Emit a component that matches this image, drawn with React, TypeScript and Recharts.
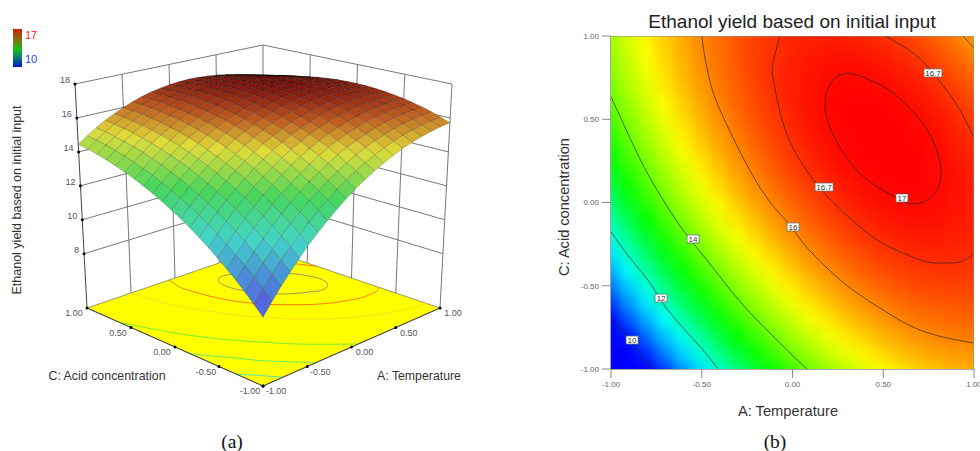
import { ComposedChart, Scatter, XAxis, YAxis } from 'recharts'

// grid of the response surface, rows run C = -1 .. 1, columns A = -1 .. 1
const gridSteps = [-1, -0.9, -0.8, -0.7, -0.6, -0.5, -0.4, -0.3, -0.2, -0.1, 0, 0.1, 0.2, 0.3, 0.4, 0.5, 0.6, 0.7, 0.8, 0.9, 1]
const yieldRows = [
  [8.52, 9.18, 9.81, 10.41, 10.98, 11.52, 12.02, 12.49, 12.93, 13.34, 13.72, 14.06, 14.37, 14.65, 14.9, 15.12, 15.3, 15.45, 15.57, 15.66, 15.72],
  [9.01, 9.66, 10.28, 10.87, 11.42, 11.94, 12.43, 12.89, 13.31, 13.71, 14.07, 14.4, 14.7, 14.96, 15.19, 15.4, 15.57, 15.7, 15.81, 15.88, 15.92],
  [9.49, 10.12, 10.72, 11.29, 11.83, 12.34, 12.82, 13.26, 13.67, 14.05, 14.4, 14.71, 14.99, 15.25, 15.46, 15.65, 15.81, 15.93, 16.02, 16.08, 16.11],
  [9.94, 10.56, 11.15, 11.7, 12.23, 12.72, 13.18, 13.61, 14.01, 14.37, 14.7, 15.01, 15.27, 15.51, 15.71, 15.89, 16.03, 16.14, 16.21, 16.26, 16.27],
  [10.37, 10.98, 11.55, 12.09, 12.6, 13.08, 13.53, 13.94, 14.32, 14.67, 14.99, 15.28, 15.53, 15.75, 15.94, 16.1, 16.23, 16.32, 16.38, 16.41, 16.41],
  [10.78, 11.37, 11.93, 12.46, 12.96, 13.42, 13.85, 14.25, 14.62, 14.95, 15.26, 15.53, 15.77, 15.98, 16.15, 16.3, 16.41, 16.49, 16.53, 16.55, 16.53],
  [11.17, 11.75, 12.29, 12.81, 13.29, 13.74, 14.15, 14.54, 14.89, 15.21, 15.5, 15.76, 15.98, 16.18, 16.34, 16.47, 16.57, 16.63, 16.66, 16.66, 16.63],
  [11.54, 12.1, 12.63, 13.13, 13.6, 14.03, 14.44, 14.81, 15.15, 15.45, 15.73, 15.97, 16.18, 16.36, 16.5, 16.62, 16.7, 16.75, 16.77, 16.76, 16.71],
  [11.89, 12.44, 12.95, 13.44, 13.89, 14.31, 14.7, 15.05, 15.38, 15.67, 15.93, 16.16, 16.35, 16.52, 16.65, 16.75, 16.82, 16.85, 16.86, 16.83, 16.77],
  [12.22, 12.75, 13.25, 13.72, 14.16, 14.56, 14.94, 15.28, 15.59, 15.87, 16.11, 16.33, 16.51, 16.66, 16.77, 16.86, 16.91, 16.94, 16.93, 16.88, 16.81],
  [12.52, 13.04, 13.53, 13.98, 14.41, 14.8, 15.16, 15.49, 15.78, 16.04, 16.27, 16.47, 16.64, 16.78, 16.88, 16.95, 16.99, 17.0, 16.97, 16.91, 16.83],
  [12.81, 13.31, 13.79, 14.23, 14.64, 15.01, 15.36, 15.67, 15.95, 16.2, 16.42, 16.6, 16.75, 16.87, 16.96, 17.02, 17.04, 17.04, 17.0, 16.92, 16.82],
  [13.08, 13.57, 14.02, 14.45, 14.84, 15.21, 15.54, 15.83, 16.1, 16.33, 16.54, 16.71, 16.84, 16.95, 17.02, 17.07, 17.08, 17.06, 17.0, 16.92, 16.8],
  [13.32, 13.8, 14.24, 14.65, 15.03, 15.38, 15.69, 15.98, 16.23, 16.45, 16.64, 16.79, 16.91, 17.01, 17.07, 17.09, 17.09, 17.05, 16.98, 16.88, 16.75],
  [13.54, 14.0, 14.43, 14.83, 15.2, 15.53, 15.83, 16.1, 16.34, 16.54, 16.71, 16.86, 16.96, 17.04, 17.09, 17.1, 17.08, 17.03, 16.95, 16.83, 16.69],
  [13.75, 14.19, 14.61, 14.99, 15.34, 15.66, 15.95, 16.2, 16.42, 16.61, 16.77, 16.9, 16.99, 17.06, 17.09, 17.09, 17.05, 16.99, 16.89, 16.76, 16.6],
  [13.93, 14.36, 14.76, 15.13, 15.46, 15.77, 16.04, 16.28, 16.49, 16.67, 16.81, 16.92, 17.0, 17.05, 17.07, 17.05, 17.0, 16.92, 16.81, 16.67, 16.49],
  [14.09, 14.51, 14.89, 15.25, 15.57, 15.86, 16.12, 16.34, 16.54, 16.7, 16.83, 16.92, 16.99, 17.02, 17.02, 16.99, 16.93, 16.84, 16.71, 16.55, 16.36],
  [14.23, 14.63, 15.0, 15.34, 15.65, 15.93, 16.17, 16.38, 16.56, 16.71, 16.82, 16.9, 16.96, 16.97, 16.96, 16.92, 16.84, 16.73, 16.59, 16.42, 16.21],
  [14.35, 14.74, 15.1, 15.42, 15.71, 15.97, 16.2, 16.4, 16.56, 16.7, 16.8, 16.87, 16.9, 16.91, 16.88, 16.82, 16.73, 16.6, 16.45, 16.26, 16.04],
  [14.45, 14.82, 15.17, 15.48, 15.75, 16.0, 16.21, 16.4, 16.55, 16.66, 16.75, 16.8, 16.83, 16.82, 16.77, 16.7, 16.6, 16.46, 16.29, 16.07, 15.85],
]

// contour lines, [A, C]
const contour10 = [[-1, -0.694], [-0.884, -0.844], [-0.774, -1]]
const contour12 = [[-1, -0.177], [-0.895, -0.333], [-0.785, -0.483], [-0.719, -0.598], [-0.603, -0.754], [-0.493, -0.886], [-0.41, -1]]
const contour14 = [[-1, 0.634], [-0.895, 0.387], [-0.785, 0.147], [-0.642, -0.105], [-0.548, -0.243], [-0.416, -0.423], [-0.273, -0.616], [-0.124, -0.784], [-0.014, -0.904], [0.08, -1]]
const contour16 = [[-0.499, 1], [-0.482, 0.868], [-0.438, 0.664], [-0.361, 0.465], [-0.251, 0.225], [-0.124, 0.003], [-0.014, -0.135], [0.058, -0.243], [0.19, -0.393], [0.333, -0.526], [0.499, -0.646], [0.664, -0.748], [0.829, -0.808], [1, -0.844]]
const contour16Corner = [[0.94, 1], [1, 0.928]]
const contour167Left = [[-0.069, 1], [-0.107, 0.844], [-0.107, 0.748], [-0.069, 0.544], [0.003, 0.327], [0.124, 0.123], [0.223, 0.003], [0.328, -0.105], [0.466, -0.225], [0.609, -0.303], [0.741, -0.357], [0.829, -0.363], [0.923, -0.357], [1, -0.309]]
const contour167Right = [[0.51, 1], [0.664, 0.898], [0.774, 0.778], [0.906, 0.586], [1, 0.387]]
const contour17 = [[0.317, 0.778], [0.427, 0.736], [0.554, 0.658], [0.664, 0.544], [0.758, 0.405], [0.813, 0.243], [0.813, 0.123], [0.758, 0.027], [0.664, -0.009], [0.576, 0.027], [0.427, 0.123], [0.3, 0.267], [0.207, 0.447], [0.179, 0.586], [0.196, 0.688], [0.245, 0.754], [0.317, 0.778]]
const plotFrame = [{ x: -1, y: 1 }, { x: 1, y: 1 }, { x: 1, y: -1 }]

const contourLabels = [
  { x: -0.884, y: -0.826, text: '10' },
  { x: -0.724, y: -0.574, text: '12' },
  { x: -0.548, y: -0.219, text: '14' },
  { x: 0.003, y: -0.147, text: '16' },
  { x: 0.174, y: 0.093, text: '16.7' },
  { x: 0.774, y: 0.778, text: '16.7' },
  { x: 0.603, y: 0.027, text: '17' },
]

const axisTicks = [-1, -0.5, 0, 0.5, 1]
const wallTicks = [-0.5, 0, 0.5]
const yieldTicks = [8, 10, 12, 14, 16, 18]

const floorContours = [
  { pts: contour10, color: '#55e8b0' },
  { pts: contour12, color: '#66ee66' },
  { pts: contour14, color: '#77ee33' },
  { pts: contour16, color: '#ffe020' },
  { pts: contour16Corner, color: '#ffe020' },
  { pts: contour167Left, color: '#ff7a10' },
  { pts: contour167Right, color: '#ff7a10' },
  { pts: contour17, color: '#9a9a58' },
]

const heatStops: [number, number[]][] = [
  [10, [0, 0, 255]],
  [11.7, [0, 255, 255]],
  [13.25, [0, 255, 0]],
  [15.1, [255, 255, 0]],
  [17.05, [255, 0, 0]],
]
const meshStops: [number, number[]][] = [
  [8.5, [90, 78, 225]],
  [10.3, [72, 150, 215]],
  [11.6, [68, 212, 200]],
  [13.4, [72, 214, 92]],
  [15.1, [224, 220, 58]],
  [16.2, [190, 92, 34]],
  [17.1, [125, 18, 14]],
]

function colorAt(stops: [number, number[]][], z: number) {
  if (z <= stops[0][0]) return `rgb(${stops[0][1].join(',')})`
  for (let i = 1; i < stops.length; i++) {
    if (z <= stops[i][0]) {
      const t = (z - stops[i - 1][0]) / (stops[i][0] - stops[i - 1][0])
      const c = stops[i][1].map((v, k) => Math.round(stops[i - 1][1][k] + (v - stops[i - 1][1][k]) * t))
      return `rgb(${c.join(',')})`
    }
  }
  return `rgb(${stops[stops.length - 1][1].join(',')})`
}

// panel (a): box corners in chart units, the chart scale is 1:1 with pixels
const WIDTH_A = 490
const HEIGHT = 451
const Z_FLOOR = 4.8
const Z_TOP = 18
const floorBox = { f: [263, 386], r: [440, 308], l: [87, 308], b: [263, 248] }
const topBox = { f: [263, 142], r: [452, 84], l: [75, 84], b: [263, 45] }

function corner(box: typeof floorBox, A: number, C: number) {
  const u = (A + 1) / 2
  const v = (C + 1) / 2
  const mix = (k: number) => (1 - u) * (1 - v) * box.f[k] + u * (1 - v) * box.r[k] + (1 - u) * v * box.l[k] + u * v * box.b[k]
  return [mix(0), mix(1)]
}

function project(A: number, C: number, z: number) {
  const lo = corner(floorBox, A, C)
  const hi = corner(topBox, A, C)
  const t = (z - Z_FLOOR) / (Z_TOP - Z_FLOOR)
  return { x: lo[0] + (hi[0] - lo[0]) * t, y: lo[1] + (hi[1] - lo[1]) * t }
}

const onFloor = (pts: number[][]) => pts.map(([a, c]) => project(a, c, Z_FLOOR))

// surface patches, far corner first so nearer ones paint over them
const patches: any[] = []
for (let c = gridSteps.length - 2; c >= 0; c--) {
  for (let a = gridSteps.length - 2; a >= 0; a--) {
    const corners = [
      project(gridSteps[a], gridSteps[c], yieldRows[c][a]),
      project(gridSteps[a + 1], gridSteps[c], yieldRows[c][a + 1]),
      project(gridSteps[a + 1], gridSteps[c + 1], yieldRows[c + 1][a + 1]),
      project(gridSteps[a], gridSteps[c + 1], yieldRows[c + 1][a]),
    ]
    const z = (yieldRows[c][a] + yieldRows[c][a + 1] + yieldRows[c + 1][a + 1] + yieldRows[c + 1][a]) / 4
    const far = Math.pow(((c + a) / 36), 6)
    patches.push({ x: corners[0].x, y: corners[0].y, corners, fill: colorAt(meshStops, z), edge: `rgba(0,0,0,${(0.28 + far * 0.65).toFixed(2)})` })
  }
}

const floorPoly = [project(-1, -1, Z_FLOOR), project(1, -1, Z_FLOOR), project(1, 1, Z_FLOOR), project(-1, 1, Z_FLOOR)]
const floorMark = [{ ...floorPoly[0], corners: floorPoly, fill: '#ffff00', edge: '#555' }]

const wallLines = [
  ...yieldTicks.map((z) => [project(-1, 1, z), project(1, 1, z), project(1, -1, z)]),
  ...wallTicks.map((a) => [project(a, 1, Z_FLOOR), project(a, 1, Z_TOP)]),
  ...wallTicks.map((c) => [project(1, c, Z_FLOOR), project(1, c, Z_TOP)]),
  [project(1, 1, Z_FLOOR), project(1, 1, Z_TOP)],
  [project(1, -1, Z_FLOOR), project(1, -1, Z_TOP)],
]
const edgeLines = [
  [project(-1, 1, Z_FLOOR), project(-1, 1, Z_TOP)],
  [project(-1, 1, Z_FLOOR), project(-1, -1, Z_FLOOR), project(1, -1, Z_FLOOR)],
]
const tickDots = [
  ...yieldTicks.map((z) => project(-1, 1, z)),
  ...axisTicks.map((c) => project(-1, c, Z_FLOOR)),
  ...axisTicks.map((a) => project(a, -1, Z_FLOOR)),
]
const tickText = [
  ...yieldTicks.map((z) => ({ ...project(-1, 1, z), text: String(z), dx: -5, dy: -1, anchor: 'end' })),
  ...axisTicks.map((c) => ({ ...project(-1, c, Z_FLOOR), text: c.toFixed(2), dx: -13, dy: 8, anchor: 'middle' })),
  ...axisTicks.map((a) => ({ ...project(a, -1, Z_FLOOR), text: a.toFixed(2), dx: 13, dy: 8, anchor: 'middle' })),
]

const heatCells: any[] = []
gridSteps.forEach((c, r) => gridSteps.forEach((a, k) => heatCells.push({ x: a, y: c, fill: colorAt(heatStops, yieldRows[r][k]) })))

const noDot = () => <g />

function Poly(props: any) {
  const { cx, cy, payload } = props
  const first = payload.corners[0]
  const pts = payload.corners.map((p: any) => `${cx + p.x - first.x},${cy + p.y - first.y}`).join(' ')
  return <polygon points={pts} fill={payload.fill} stroke={payload.edge} strokeWidth={0.6} />
}

function Dot(props: any) {
  return <circle cx={props.cx} cy={props.cy} r={1.5} fill="#000" />
}

function TickText(props: any) {
  const { cx, cy, payload } = props
  return (
    <text x={cx + payload.dx} y={cy + payload.dy} textAnchor={payload.anchor} fontSize={9} fill="#555" fontFamily="Liberation Sans">
      {payload.text}
    </text>
  )
}

function HeatCell(props: any) {
  const { cx, cy, payload } = props
  const w = 18.15
  const h = 16.65
  const pad = 40
  const left = payload.x === -1 ? pad : w / 2 + 1
  const right = payload.x === 1 ? pad : w / 2 + 1
  const top = payload.y === 1 ? pad : h / 2 + 1
  const bottom = payload.y === -1 ? pad : h / 2 + 1
  return <rect x={cx - left} y={cy - top} width={left + right} height={top + bottom} fill={payload.fill} />
}

function ContourLabel(props: any) {
  const { cx, cy, payload } = props
  const w = payload.text.length > 2 ? 18 : 12
  return (
    <g>
      <rect x={cx - w / 2} y={cy - 4} width={w} height={8} fill="#fff" stroke="#666" strokeWidth={0.7} />
      <text x={cx} y={cy + 3} textAnchor="middle" fontSize={8} fill="#333" fontFamily="Liberation Sans">
        {payload.text}
      </text>
    </g>
  )
}

function PanelA() {
  return (
    <ComposedChart width={WIDTH_A} height={HEIGHT} margin={{ top: 0, right: 0, bottom: 0, left: 0 }} style={{ position: 'absolute', left: 0, top: 0 }}>
      <XAxis type="number" dataKey="x" domain={[0, WIDTH_A]} hide />
      <YAxis type="number" dataKey="y" domain={[0, HEIGHT]} reversed hide />
      {wallLines.map((pts, i) => (
        <Scatter key={`w${i}`} data={pts} line={{ stroke: '#777', strokeWidth: 1 }} shape={noDot} isAnimationActive={false} />
      ))}
      <Scatter data={floorMark} shape={Poly} isAnimationActive={false} />
      {floorContours.map((c, i) => (
        <Scatter key={`c${i}`} data={onFloor(c.pts)} line={{ stroke: c.color, strokeWidth: 1 }} lineJointType="natural" shape={noDot} isAnimationActive={false} />
      ))}
      {edgeLines.map((pts, i) => (
        <Scatter key={`e${i}`} data={pts} line={{ stroke: '#444', strokeWidth: 1 }} shape={noDot} isAnimationActive={false} />
      ))}
      <Scatter data={patches} shape={Poly} isAnimationActive={false} />
      <Scatter data={tickDots} shape={Dot} isAnimationActive={false} />
      <Scatter data={tickText} shape={TickText} isAnimationActive={false} />
    </ComposedChart>
  )
}

function PanelB() {
  const tickStyle = { fontSize: 8, fill: '#666', fontFamily: 'Liberation Sans' }
  const line = { stroke: '#222', strokeWidth: 1, strokeOpacity: 0.65 }
  return (
    <ComposedChart width={490} height={HEIGHT} margin={{ top: 36, right: 6, bottom: 42, left: 60 }} style={{ position: 'absolute', left: 490, top: 0 }}>
      <XAxis
        type="number"
        dataKey="x"
        domain={[-1, 1]}
        ticks={axisTicks}
        interval={0}
        height={40}
        allowDataOverflow
        tickFormatter={(v: number) => v.toFixed(2)}
        tick={tickStyle}
        tickSize={9}
        tickMargin={3}
        axisLine={{ stroke: '#888', strokeWidth: 1.5 }}
        tickLine={{ stroke: '#888' }}
      />
      <YAxis
        type="number"
        dataKey="y"
        domain={[-1, 1]}
        ticks={axisTicks}
        interval={0}
        width={61}
        allowDataOverflow
        tickFormatter={(v: number) => v.toFixed(2)}
        tick={tickStyle}
        tickSize={9}
        tickMargin={3}
        axisLine={{ stroke: '#888', strokeWidth: 1.5 }}
        tickLine={{ stroke: '#888' }}
      />
      <Scatter className="heatLayer" data={heatCells} shape={HeatCell} isAnimationActive={false} />
      {[contour10, contour12, contour14, contour16, contour16Corner, contour167Left, contour167Right, contour17].map((pts, i) => (
        <Scatter
          key={i}
          data={pts.map(([x, y]) => ({ x, y }))}
          line={line}
          lineJointType="natural"
          shape={noDot}
          isAnimationActive={false}
        />
      ))}
      <Scatter data={plotFrame} line={{ stroke: '#888', strokeWidth: 1 }} shape={noDot} isAnimationActive={false} />
      <Scatter data={contourLabels} shape={ContourLabel} isAnimationActive={false} />
    </ComposedChart>
  )
}

function Tag(props: { x: number; y: number; size: number; text: string; rotate?: boolean; color?: string; serif?: boolean; weight?: number }) {
  const { x, y, size, text, rotate, color, serif, weight } = props
  return (
    <div
      style={{
        position: 'absolute',
        left: x,
        top: y,
        whiteSpace: 'nowrap',
        fontSize: size,
        fontWeight: weight ?? 400,
        color: color ?? '#333',
        fontFamily: serif ? 'Liberation Serif' : 'Liberation Sans',
        lineHeight: 1,
        transform: `translate(-50%, -50%)${rotate ? ' rotate(-90deg)' : ''}`,
      }}
    >
      {text}
    </div>
  )
}

export default function App() {
  return (
    <div style={{ position: 'fixed', left: 0, top: 0, width: 980, height: HEIGHT, background: '#fff', overflow: 'hidden' }}>
      <style>{`.heatLayer { filter: url(#heatBlur); }`}</style>
      <svg width={0} height={0} style={{ position: 'absolute' }}>
        <defs>
          <filter id="heatBlur" x="-10%" y="-10%" width="120%" height="120%" colorInterpolationFilters="sRGB">
            <feGaussianBlur stdDeviation="6" />
          </filter>
        </defs>
      </svg>
      <PanelA />
      <PanelB />
      <div
        style={{
          position: 'absolute',
          left: 13,
          top: 29,
          width: 9,
          height: 38,
          background: 'linear-gradient(#cc2000, #7a7a10 30%, #10c020 55%, #0a6a80 80%, #0010d0)',
        }}
      />
      <Tag x={31} y={35} size={11} text="17" color="#ff2020" />
      <Tag x={31} y={59} size={11} text="10" color="#2040ff" />
      <Tag x={17} y={200} size={12.5} text="Ethanol yield based on initial input" rotate />
      <Tag x={107} y={376} size={12.4} text="C: Acid concentration" />
      <Tag x={419} y={376} size={12.3} text="A: Temperature" />
      <Tag x={792} y={21} size={19} text="Ethanol yield based on initial input" color="#222" />
      <Tag x={788} y={411} size={14.7} text="A: Temperature" />
      <Tag x={564} y={207} size={14.6} text="C: Acid concentration" rotate />
      <Tag x={232} y={442} size={19.5} text="(a)" serif color="#111" />
      <Tag x={775} y={442} size={19.5} text="(b)" serif color="#111" />
    </div>
  )
}
